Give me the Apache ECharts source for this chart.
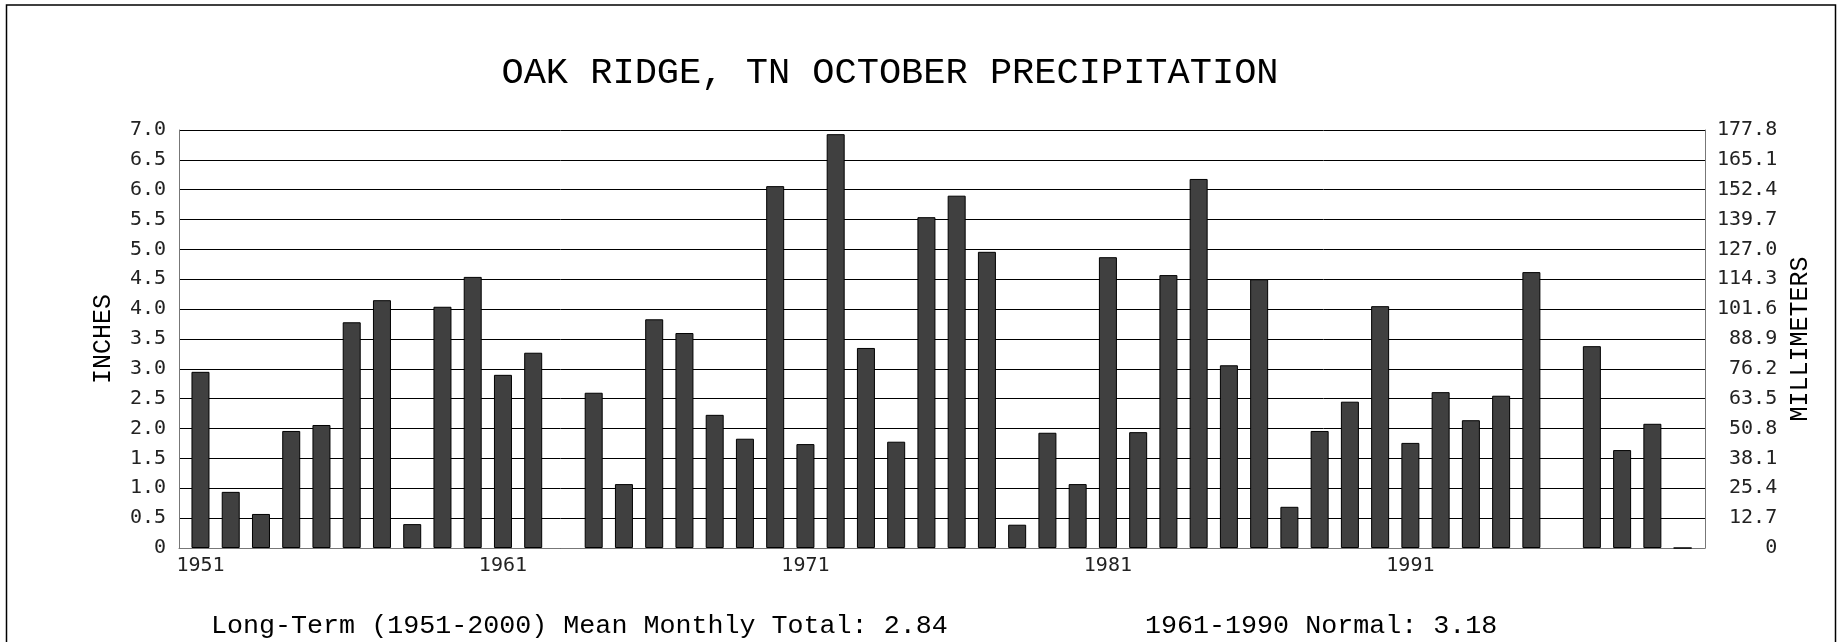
<!DOCTYPE html>
<html>
<head>
<meta charset="utf-8">
<script src="https://cdn.jsdelivr.net/npm/echarts@6/dist/echarts.min.js"></script>
<style>html,body{margin:0;padding:0;background:#fff}#chart{width:1837px;height:642px}</style>
</head>
<body>
<div id="chart"></div>
<script>
// Data
const years = [1951,1952,1953,1954,1955,1956,1957,1958,1959,1960,
  1961,1962,1963,1964,1965,1966,1967,1968,1969,1970,
  1971,1972,1973,1974,1975,1976,1977,1978,1979,1980,
  1981,1982,1983,1984,1985,1986,1987,1988,1989,1990,
  1991,1992,1993,1994,1995,1996,1997,1998,1999,2000];
const inches = [2.95,0.94,0.57,1.96,2.06,3.78,4.15,0.40,4.04,4.54,
  2.90,3.27,null,2.60,1.07,3.83,3.60,2.23,1.83,6.06,
  1.74,6.93,3.35,1.78,5.54,5.90,4.96,0.39,1.93,1.07,
  4.87,1.94,4.57,6.18,3.06,4.50,0.69,1.96,2.45,4.05,
  1.76,2.61,2.14,2.55,4.62,null,3.38,1.64,2.08,0];
const yearLabels = [1951,1961,1971,1981,1991];
const inchTicks = ['0','0.5','1.0','1.5','2.0','2.5','3.0','3.5','4.0','4.5','5.0','5.5','6.0','6.5','7.0'];
const mmTicks = ['0','12.7','25.4','38.1','50.8','63.5','76.2','88.9','101.6','114.3','127.0','139.7','152.4','165.1','177.8'];
const titleText = 'OAK RIDGE, TN OCTOBER PRECIPITATION';
const noteLeft = 'Long-Term (1951-2000) Mean Monthly Total: 2.84';
const noteRight = '1961-1990 Normal: 3.18';

const chart = echarts.init(document.getElementById('chart'));
const mono = 'DejaVu Sans Mono';
const courier = 'Liberation Mono';
const idx = v => Math.round(v / 0.5);

chart.setOption({
  animation: false,
  backgroundColor: '#fff',
  grid: { left: 179, right: 132, top: 130, bottom: 94, containLabel: false },
  graphic: [
    { type: 'rect', shape: { x: 6.5, y: 5, width: 1829, height: 700 }, style: { fill: 'none', stroke: '#000', lineWidth: 1.5 }, silent: true },
    { type: 'text', x: 890, y: 73, style: { text: titleText, font: '37px "Liberation Mono"', fill: '#000', textAlign: 'center', textVerticalAlign: 'middle' } },
    { type: 'text', x: 211, y: 626, style: { text: noteLeft, font: '26.7px "Liberation Mono"', fill: '#000', textAlign: 'left', textVerticalAlign: 'middle' } },
    { type: 'text', x: 1145, y: 626, style: { text: noteRight, font: '26.7px "Liberation Mono"', fill: '#000', textAlign: 'left', textVerticalAlign: 'middle' } }
  ],
  xAxis: {
    type: 'value',
    min: 1950.29,
    max: 2000.74,
    axisLine: { show: true, lineStyle: { color: '#777', width: 1 } },
    axisTick: { show: false },
    splitLine: { show: false },
    axisLabel: {
      customValues: yearLabels,
      formatter: v => String(v),
      color: '#222',
      fontFamily: mono,
      fontSize: 20,
      margin: 8
    }
  },
  yAxis: [
    {
      type: 'value', position: 'left', min: 0, max: 7, interval: 0.5,
      name: 'INCHES', nameLocation: 'middle', nameGap: 63, nameRotate: 90,
      nameTextStyle: { fontFamily: courier, fontSize: 25, color: '#000' },
      axisLine: { show: true, lineStyle: { color: '#777', width: 1 } },
      axisTick: { show: false },
      splitLine: { show: true, lineStyle: { color: '#000', width: 1 } },
      axisLabel: { formatter: v => inchTicks[idx(v)], color: '#222', fontFamily: mono, fontSize: 20, margin: 13 }
    },
    {
      type: 'value', position: 'right', min: 0, max: 7, interval: 0.5,
      name: 'MILLIMETERS', nameLocation: 'middle', nameGap: 82, nameRotate: 90,
      nameTextStyle: { fontFamily: courier, fontSize: 25, color: '#000' },
      axisLine: { show: true, lineStyle: { color: '#777', width: 1 } },
      axisTick: { show: false },
      splitLine: { show: false },
      axisLabel: { formatter: v => mmTicks[idx(v)].padStart(5, ' '), color: '#222', fontFamily: mono, fontSize: 20, margin: 12 }
    }
  ],
  series: [{
    type: 'bar',
    yAxisIndex: 0,
    barWidth: 18,
    data: years.map((y, i) => [y, inches[i]]),
    itemStyle: { color: '#404040', borderColor: '#000', borderWidth: 1 }
  }]
});
</script>
</body>
</html>
